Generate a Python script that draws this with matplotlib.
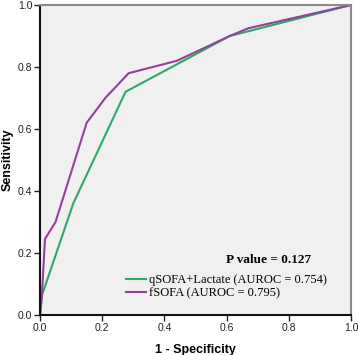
import matplotlib
matplotlib.use("Agg")
import matplotlib.pyplot as plt

# Data
q_fpr = [0.0, 0.005, 0.107, 0.275, 0.61, 1.0]
q_tpr = [0.0, 0.06, 0.36, 0.72, 0.90, 1.0]
f_fpr = [0.0, 0.005, 0.016, 0.05, 0.15, 0.21, 0.285, 0.44, 0.61, 0.67, 1.0]
f_tpr = [0.0, 0.045, 0.245, 0.30, 0.62, 0.70, 0.78, 0.82, 0.90, 0.925, 1.0]
q_label = "qSOFA+Lactate (AUROC = 0.754)"
f_label = "fSOFA (AUROC = 0.795)"
p_text = "P value = 0.127"
ticks = [0.0, 0.2, 0.4, 0.6, 0.8, 1.0]
tick_labels = ["0.0", "0.2", "0.4", "0.6", "0.8", "1.0"]

green = "#2ea86a"
purple = "#953f9c"

fig = plt.figure(figsize=(3.58, 3.55), dpi=100)
ax = fig.add_axes([40/358, 40/355, 311/358, 310/355])
ax.set_facecolor("#f0f0f0")
ax.plot(q_fpr, q_tpr, color=green, lw=1.5, label=q_label)
ax.plot(f_fpr, f_tpr, color=purple, lw=1.5, label=f_label)
ax.set_xlim(0, 1)
ax.set_ylim(0, 1)
ax.set_xticks(ticks)
ax.set_xticklabels(tick_labels)
ax.set_yticks(ticks)
ax.set_yticklabels(tick_labels)
for lab in ax.get_xticklabels() + ax.get_yticklabels():
    lab.set_family("Liberation Sans")
    lab.set_fontsize(7.5)
    lab.set_color("#333333")
ax.tick_params(direction="out", length=4, width=1, colors="#222222", pad=1.5)
ax.spines["left"].set_color("#111111")
ax.spines["bottom"].set_color("#111111")
ax.spines["left"].set_linewidth(1.5)
ax.spines["bottom"].set_linewidth(1.5)
ax.spines["top"].set_color("#8a8a8a")
ax.spines["right"].set_color("#8a8a8a")
ax.spines["top"].set_linewidth(1.5)
ax.spines["right"].set_linewidth(1.5)

ax.set_xlabel("1 - Specificity", family="Liberation Sans", fontweight="bold",
              fontsize=9, labelpad=8)
ax.set_ylabel("Sensitivity", family="Liberation Sans", fontweight="bold",
              fontsize=9)
ax.yaxis.set_label_coords(-0.084, 0.5)

ax.text(0.735, 0.176, p_text, transform=ax.transAxes, ha="center", va="center",
        family="Liberation Serif", fontweight="bold", fontsize=9.5)
leg = ax.legend(loc="lower left", bbox_to_anchor=(0.275, 0.05), frameon=False,
                prop={"family": "Liberation Serif", "size": 9},
                handlelength=1.6, handletextpad=0.3, labelspacing=0.1,
                borderaxespad=0, borderpad=0)

fig.savefig("out.png", dpi=100)
